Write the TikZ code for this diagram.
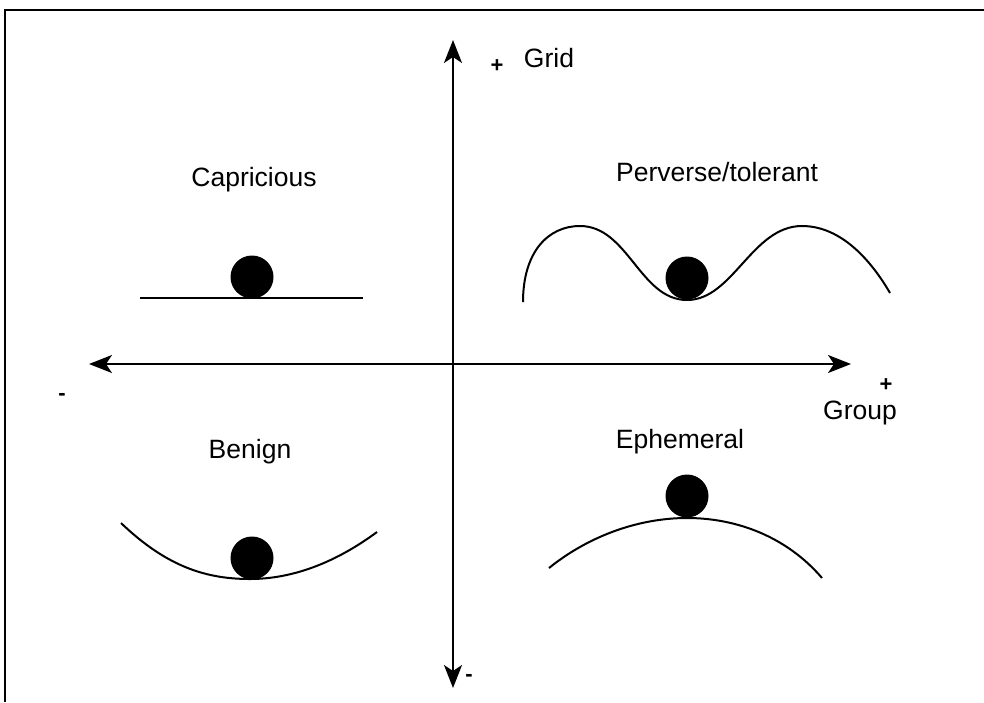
\documentclass[tikz,border=0pt]{standalone}
\usepackage{fontspec}
\setmainfont{Liberation Sans}
\usetikzlibrary{arrows.meta}
\begin{document}
\begin{tikzpicture}[x=1pt,y=-1pt,
  lbl/.style={inner sep=0pt,font=\fontsize{26.5}{30}\selectfont},
  sgn/.style={inner sep=0pt,font=\fontsize{22}{26}\selectfont\bfseries},
  axis/.style={line width=2pt,{Stealth[length=23pt,width=18pt,inset=6pt]}-{Stealth[length=23pt,width=18pt,inset=6pt]}},
  surf/.style={line width=2pt},
  ball/.style={circle,fill=black,inner sep=0pt,minimum size=43pt}]
\useasboundingbox (0,0) rectangle (984,702);
% frame
\draw[line width=2.5pt] (5,702) -- (5,10) -- (984,10);
% axes
\coordinate (top) at (453,40);
\coordinate (bot) at (453,688);
\coordinate (lft) at (89,364);
\coordinate (rgt) at (851,364);
\draw[axis] (bot) -- (top);
\draw[axis] (lft) -- (rgt);
% axis labels
\node[sgn] (gp) at (497,66) {+};
\node[lbl] (grid) at (549,58) {Grid};
\node[sgn] (gm) at (469,678) {-};
\node[sgn] (lm) at (62,397) {-};
\node[sgn] (rp) at (886,385) {+};
\node[lbl] (group) at (860,413) {Group};
% quadrant titles
\node[lbl] (cap) at (254,180) {Capricious};
\node[lbl] (per) at (717,172) {Perverse/tolerant};
\node[lbl] (ben) at (250,452) {Benign};
\node[lbl] (eph) at (680,442) {Ephemeral};
% Capricious
\draw[surf] (140,298) -- (363,298);
\node[ball] (b1) at (252,277) {};
% Perverse/tolerant
\draw[surf] (523,302) .. controls (523,252) and (548,226) .. (580,226)
  .. controls (628,226) and (640,300) .. (687,300)
  .. controls (733,300) and (752,226) .. (802,226)
  .. controls (842,226) and (872,262) .. (890,293);
\node[ball] (b2) at (687,278) {};
% Benign
\draw[surf] (121,523) .. controls (168,568) and (208,579) .. (250,579)
  .. controls (292,579) and (335,563) .. (377,532);
\node[ball] (b3) at (252,558) {};
% Ephemeral
\draw[surf] (549,568) .. controls (590,535) and (640,518) .. (687,518)
  .. controls (737,518) and (787,537) .. (822,578);
\node[ball] (b4) at (687,496) {};
\end{tikzpicture}
\end{document}
